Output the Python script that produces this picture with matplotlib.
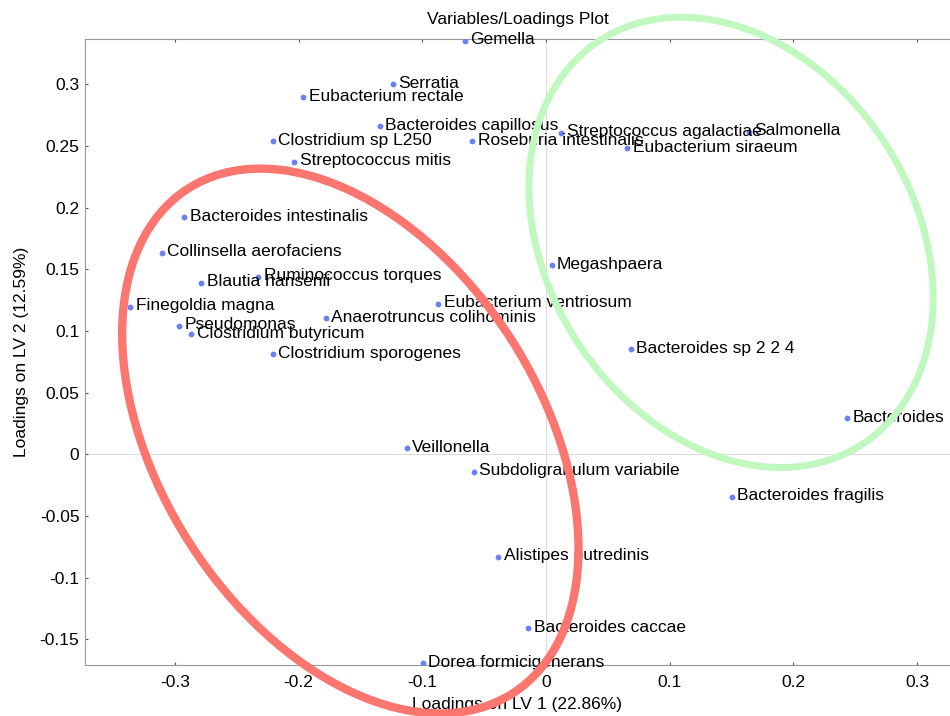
#!/usr/bin/env python3
# -*- coding: utf-8 -*-
"""
PLS-DA loadings plot (LV1 vs LV2) with the two bacterial groups circled.
"""

import matplotlib
matplotlib.use("Agg")
import matplotlib.pyplot as plt
from matplotlib.patches import Ellipse
from matplotlib.ticker import FuncFormatter

# variable names and their loadings on LV1 / LV2
names = [
    "Gemella", "Serratia", "Eubacterium rectale", "Bacteroides capillosus",
    "Clostridium sp L250", "Streptococcus mitis", "Roseburia intestinalis",
    "Bacteroides intestinalis", "Streptococcus agalactiae", "Salmonella",
    "Eubacterium siraeum", "Collinsella aerofaciens", "Ruminococcus torques",
    "Blautia hansenii", "Finegoldia magna", "Eubacterium ventriosum",
    "Anaerotruncus colihominis", "Pseudomonas", "Clostridium butyricum",
    "Clostridium sporogenes", "Veillonella", "Megashpaera",
    "Bacteroides sp 2 2 4", "Bacteroides", "Subdoligranulum variabile",
    "Bacteroides fragilis", "Alistipes putredinis", "Bacteroides caccae",
    "Dorea formicigenerans",
]
lv1 = [
    -0.0655, -0.124, -0.1962, -0.1342,
    -0.221, -0.2035, -0.0596,
    -0.2924, 0.0124, 0.1644,
    0.0657, -0.3107, -0.2326,
    -0.2787, -0.336, -0.0871,
    -0.1778, -0.2964, -0.2867,
    -0.221, -0.1124, 0.0046,
    0.0685, 0.2436, -0.0582,
    0.1501, -0.0386, -0.0143,
    -0.0997,
]
lv2 = [
    0.3352, 0.300, 0.2893, 0.2660,
    0.2536, 0.2371, 0.2536,
    0.1921, 0.2606, 0.2614,
    0.2480, 0.1634, 0.1439,
    0.1391, 0.1194, 0.1220,
    0.1102, 0.1040, 0.0975,
    0.0813, 0.0049, 0.1534,
    0.0851, 0.0292, -0.0141,
    -0.0344, -0.0830, -0.1410,
    -0.1694,
]

x_ticks = [-0.3, -0.2, -0.1, 0, 0.1, 0.2, 0.3]
y_ticks = [-0.15, -0.1, -0.05, 0, 0.05, 0.1, 0.15, 0.2, 0.25, 0.3]

# hand-drawn group outlines: (center x, center y, width, height, angle)
group_a = (-0.1582, 0.0108, 0.486, 0.308, -57.3)
group_b = (0.1496, 0.1718, 0.390, 0.2964, -57.1)

plt.rcParams["font.family"] = ["Liberation Sans", "DejaVu Sans"]
plt.rcParams["axes.unicode_minus"] = False

FS = 12.5
DOT = "#6b80f2"


def fmt(v, pos):
    return "%g" % round(v, 3)


def main():
    fig = plt.figure(figsize=(9.5, 7.16), dpi=100)
    ax = fig.add_axes([85 / 950, 51 / 716, 865 / 950, 626 / 716])

    ax.set_xlim(-0.3727, 0.3266)
    ax.set_ylim(-0.1707, 0.3366)

    # zero reference lines
    ax.axhline(0, color="#dddddd", lw=0.8, zorder=0)
    ax.axvline(0, color="#dddddd", lw=0.8, zorder=0)

    ax.plot(lv1, lv2, "o", ms=4.2, color=DOT, mec="none", zorder=3)
    for n, x, y in zip(names, lv1, lv2):
        ax.annotate(n, (x, y), xytext=(3.8, -2.5), textcoords="offset points",
                    ha="left", va="baseline", fontsize=FS, color="black",
                    zorder=4)

    for s in ["left", "top", "bottom"]:
        ax.spines[s].set_color("#999999")
        ax.spines[s].set_linewidth(0.8)
    ax.spines["right"].set_visible(False)

    ax.set_xticks(x_ticks)
    ax.set_yticks(y_ticks)
    ax.xaxis.set_major_formatter(FuncFormatter(fmt))
    ax.yaxis.set_major_formatter(FuncFormatter(fmt))
    ax.tick_params(axis="x", direction="in", top=True, length=2.5, width=0.8,
                   color="#555555", labelsize=FS, pad=7)
    ax.tick_params(axis="y", direction="in", right=False, length=2.5, width=0.8,
                   color="#555555", labelsize=FS, pad=4)

    ax.set_title("Variables/Loadings Plot", fontsize=FS, pad=11)
    ax.set_xlabel("Loadings on LV 1 (22.86%)", fontsize=FS, labelpad=5)
    ax.set_ylabel("Loadings on LV 2 (12.59%)", fontsize=FS, labelpad=8)

    # group outlines, drawn over everything and allowed past the axes
    for (cx, cy, w, h, ang), col, lw in [(group_a, "#fa766e", 6.0),
                                         (group_b, "#c0f8c0", 5.0)]:
        e = Ellipse((cx, cy), w, h, angle=ang, fill=False, edgecolor=col,
                    lw=lw, zorder=10, clip_on=False)
        ax.add_patch(e)

    fig.savefig("out.png", dpi=100)
    plt.close(fig)


if __name__ == "__main__":
    main()
